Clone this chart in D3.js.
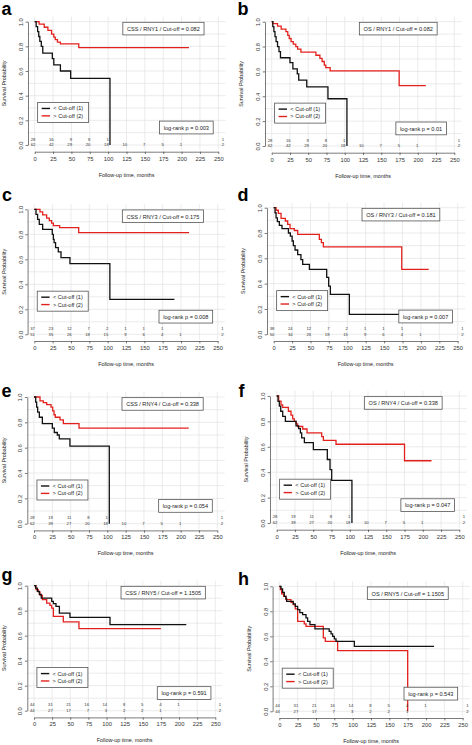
<!DOCTYPE html>
<html><head><meta charset="utf-8">
<script src="https://cdn.jsdelivr.net/npm/d3@7"></script>
<style>
html,body{margin:0;padding:0;background:#fff;}
svg{display:block;font-family:"Liberation Sans",Arial,sans-serif;}
</style></head>
<body><svg id="chart" width="472" height="745"></svg>
<script>
// ---------- DATA ----------
const timeTicks = [0,25,50,75,100,125,150,175,200,225,250];
const probTicks = [0,0.2,0.4,0.6,0.8,1.0];
const probGrid = [0,0.1,0.2,0.3,0.4,0.5,0.6,0.7,0.8,0.9,1.0];
const panelIds = ['a','b','c','d','e','f','g','h'];
const endpoints = ['CSS','OS','CSS','OS','CSS','OS','CSS','OS'];
const genes = ['RNY1','RNY1','RNY3','RNY3','RNY4','RNY4','RNY5','RNY5'];
const cutoffs = ['0.082','0.082','0.175','0.181','0.338','0.338','1.1505','1.1505'];
const pValues = ['0.003','0.01','0.008','0.007','0.054','0.047','0.591','0.543'];
const legendLabels = ['< Cut-off (1)','> Cut-off (2)'];
const strataLabels = ['1','2'];

// survival curves: [time (months), survival probability]
const a_low  = [[0,1],[2,0.96],[4,0.92],[5.5,0.88],[7,0.84],[9,0.80],[11,0.745],[24,0.70],[26,0.65],[35,0.60],[49,0.54],[102.5,0]];
const a_high = [[0,1],[6,0.98],[13,0.955],[18,0.93],[23,0.90],[26,0.875],[28,0.855],[31,0.835],[35,0.82],[60,0.79],[210,0.79]];
const b_low  = [[0,1],[1.5,0.96],[3,0.92],[4.5,0.88],[6,0.84],[8,0.80],[10,0.76],[12,0.71],[25,0.67],[29,0.62],[35,0.58],[37,0.53],[48,0.475],[77,0.38],[103,0]];
const b_high = [[0,1],[1.5,0.985],[8,0.965],[13,0.94],[19.5,0.92],[22,0.89],[24,0.865],[26.5,0.84],[29.5,0.82],[33,0.80],[35.5,0.78],[40,0.755],[60.5,0.73],[66,0.705],[69,0.68],[72,0.65],[74,0.63],[80,0.605],[174.5,0.485],[211,0.485]];
const c_low  = [[0,1],[2.3,0.96],[4.5,0.92],[6.8,0.88],[11.4,0.84],[24.5,0.80],[26,0.76],[27,0.733],[29,0.693],[32.7,0.66],[36.4,0.613],[48.6,0.565],[103,0.28],[191,0.28]];
const c_high = [[0,1],[7.7,0.98],[11.4,0.955],[16.8,0.93],[20.5,0.91],[23.6,0.89],[26,0.87],[34.5,0.853],[60.5,0.813],[211,0.813]];
const d_low  = [[0,1],[1.8,0.96],[3.2,0.92],[5,0.89],[7.7,0.86],[11.3,0.834],[20,0.80],[22.6,0.776],[25,0.737],[26.7,0.70],[29,0.666],[32.6,0.63],[37,0.59],[39.4,0.553],[48.5,0.513],[72,0.45],[74.7,0.38],[77,0.315],[102.8,0.158],[190,0.158]];
const d_high = [[0,1],[3.2,0.98],[6.3,0.955],[10,0.916],[15.8,0.895],[19,0.868],[22.2,0.834],[28,0.82],[32.6,0.79],[62,0.75],[64.8,0.724],[67.5,0.69],[174,0.513],[210.6,0.513]];
const e_low  = [[0,1],[2.3,0.96],[3.6,0.92],[5,0.88],[7.3,0.84],[11.4,0.79],[25,0.755],[27.7,0.72],[31.8,0.70],[34.5,0.67],[49,0.613],[102.7,0]];
const e_high = [[0,1],[8.2,0.97],[12.7,0.955],[17.3,0.94],[23.2,0.92],[25.5,0.89],[27.3,0.86],[29,0.84],[35.5,0.82],[40,0.79],[61.4,0.755],[211,0.755]];
const f_low  = [[0,1],[1.8,0.958],[3.6,0.92],[5.5,0.88],[8.2,0.84],[11.9,0.80],[26.5,0.764],[30,0.743],[32.4,0.71],[34.2,0.67],[37.9,0.633],[50.2,0.577],[69.3,0.50],[73,0.42],[75.3,0.335],[103,0]];
const f_high = [[0,1],[2.7,0.96],[5.9,0.93],[8.2,0.91],[16,0.88],[19.6,0.85],[21.9,0.82],[24.2,0.80],[26.5,0.78],[28.7,0.76],[35.6,0.74],[41.5,0.71],[61.6,0.68],[63.9,0.65],[81.2,0.62],[175,0.49],[212,0.49]];
const g_low  = [[0,1],[2.3,0.98],[4.6,0.955],[7.4,0.93],[10,0.90],[24.4,0.875],[26.7,0.856],[30.3,0.835],[35,0.78],[49.6,0.746],[104.8,0.688],[210,0.688]];
const g_high = [[0,1],[2.8,0.968],[6,0.95],[8.3,0.923],[11.5,0.888],[17.5,0.86],[22,0.843],[24.4,0.82],[26.7,0.755],[40.4,0.71],[62,0.656],[175,0.656]];
const h_low  = [[0,1],[2.3,0.98],[4.5,0.952],[6.8,0.92],[9.1,0.90],[10,0.88],[19,0.86],[21.8,0.84],[25,0.813],[28,0.79],[31.8,0.773],[36.4,0.747],[38.6,0.72],[41.8,0.693],[48.6,0.66],[68,0.64],[70.5,0.62],[72.7,0.60],[75,0.58],[77.3,0.56],[102.3,0.52],[211,0.52]];
const h_high = [[0,1],[1.4,0.973],[3.2,0.94],[5.9,0.92],[9.1,0.893],[15.9,0.872],[19,0.853],[21.8,0.82],[25,0.72],[34,0.70],[36.4,0.68],[60,0.587],[62.7,0.56],[79.5,0.485],[175,0]];

// numbers at risk at timeTicks
const a_riskLow = [28,16,9,8,1],          a_riskHigh = [62,42,29,20,18,10,7,5,1];
const b_riskLow = [28,16,9,8,1],          b_riskHigh = [62,42,29,20,18,10,7,5,1];
const c_riskLow = [37,23,12,7,2,1,1,1],   c_riskHigh = [51,35,26,18,15,9,6,4,1];
const d_riskLow = [38,24,12,7,2,1,1,1],   d_riskHigh = [50,34,26,18,15,9,6,4,1];
const e_riskLow = [28,19,11,8,1],         e_riskHigh = [62,39,27,20,18,10,7,5,1];
const f_riskLow = [28,19,11,8,1],         f_riskHigh = [62,39,27,20,18,10,7,5,1];
const g_riskLow = [44,31,21,16,14,8,5,4,1], g_riskHigh = [44,27,17,7,3,2,2,1];
const h_riskLow = [44,31,21,16,14,8,5,4,1], h_riskHigh = [44,27,17,7,3,2,2,1];

const curvesLow  = [a_low,b_low,c_low,d_low,e_low,f_low,g_low,h_low];
const curvesHigh = [a_high,b_high,c_high,d_high,e_high,f_high,g_high,h_high];
const risksLow   = [a_riskLow,b_riskLow,c_riskLow,d_riskLow,e_riskLow,f_riskLow,g_riskLow,h_riskLow];
const risksHigh  = [a_riskHigh,b_riskHigh,c_riskHigh,d_riskHigh,e_riskHigh,f_riskHigh,g_riskHigh,h_riskHigh];

// ---------- LAYOUT (pixel placement of each panel) ----------
const layout = [
  {x0:34.7, x1:218.3, yT:21.7,  yB:145,   lx:1.5, ly:15},
  {x0:271.7,x1:454.3, yT:21.7,  yB:146,   lx:237.5, ly:15},
  {x0:34.3, x1:217.7, yT:209.3, yB:334.3, lx:2, ly:201},
  {x0:273.7,x1:457.7, yT:207.7, yB:334.3, lx:237.5, ly:201},
  {x0:34,   x1:217.3, yT:397,   yB:523.7, lx:1.5, ly:397},
  {x0:276.7,x1:459.3, yT:396,   yB:523,   lx:238.5, ly:397},
  {x0:34,   x1:215.3, yT:585.7, yB:710.7, lx:1.5, ly:581},
  {x0:279.3,x1:462.7, yT:586.3, yB:711.3, lx:238, ly:585}
];

const RED = '#e3211c', BLACK = '#111';
const svg = d3.select('#chart');
svg.append('rect').attr('width',472).attr('height',745).attr('fill','#fff');

panelIds.forEach((id, i) => {
  const L = layout[i];
  const x = d3.scaleLinear().domain([0,250]).range([L.x0, L.x1]);
  const y = d3.scaleLinear().domain([0,1]).range([L.yB, L.yT]);
  const g = svg.append('g');
  const xl = x(-10), xr = x(260), yt = y(1.04), yb = y(-0.04);

  // grid
  g.append('g').selectAll('line').data(timeTicks).join('line')
    .attr('x1', d => x(d)).attr('x2', d => x(d)).attr('y1', yt).attr('y2', yb)
    .attr('stroke', '#e3e3e3').attr('stroke-width', 0.7);
  g.append('g').selectAll('line').data(probGrid).join('line')
    .attr('y1', d => y(d)).attr('y2', d => y(d)).attr('x1', xl).attr('x2', xr)
    .attr('stroke', '#e3e3e3').attr('stroke-width', 0.7);

  // axes
  const xa = g.append('g').attr('transform', `translate(0,${y(0) + 6.7})`)
    .call(d3.axisBottom(x).tickValues(timeTicks).tickSizeInner(2.4).tickSizeOuter(0).tickPadding(2.5));
  xa.selectAll('text').attr('font-size', 5.8).attr('fill', '#333');
  const ya = g.append('g').attr('transform', `translate(${x(0) - 6.7},0)`)
    .call(d3.axisLeft(y).tickValues(probTicks).tickFormat(d3.format('.1f')).tickSizeInner(2.4).tickSizeOuter(0));
  ya.selectAll('text').attr('font-size', 5.8).attr('fill', '#333')
    .attr('x', 0).attr('dy', 0).attr('text-anchor', 'middle')
    .attr('transform', 'translate(-5,0) rotate(-90)');
  [xa, ya].forEach(a => {
    a.select('.domain').attr('stroke', '#444').attr('stroke-width', 0.7);
    a.selectAll('.tick line').attr('stroke', '#444').attr('stroke-width', 0.7);
  });

  // axis titles
  g.append('text').attr('x', x(125)).attr('y', y(0) + 31.5)
    .attr('text-anchor', 'middle').attr('font-size', 5.4).attr('fill', '#222')
    .text('Follow-up time, months');
  g.append('text').attr('transform', `translate(${x(0) - 28.5},${y(0.5)}) rotate(-90)`)
    .attr('text-anchor', 'middle').attr('font-size', 5.4).attr('fill', '#222')
    .text('Survival Probability');

  // curves
  const line = d3.line().x(d => x(d[0])).y(d => y(d[1])).curve(d3.curveStepAfter);
  g.append('path').datum(curvesHigh[i]).attr('d', line)
    .attr('fill', 'none').attr('stroke', RED).attr('stroke-width', 1.3);
  g.append('path').datum(curvesLow[i]).attr('d', line)
    .attr('fill', 'none').attr('stroke', BLACK).attr('stroke-width', 1.3);

  // numbers at risk
  const rows = [risksLow[i], risksHigh[i]];
  const rowY = [0.048, 0.0];
  rows.forEach((r, k) => {
    g.append('g').selectAll('text').data(r).join('text')
      .attr('x', (d, j) => x(timeTicks[j]) + 0.6).attr('y', y(rowY[k])).attr('dy', '0.35em')
      .attr('text-anchor', 'end').attr('font-size', 4.2).attr('fill', '#333')
      .text(d => d);
    g.append('text').attr('x', x(258)).attr('y', y(rowY[k])).attr('dy', '0.35em')
      .attr('text-anchor', 'end').attr('font-size', 4.2).attr('fill', '#333')
      .text(strataLabels[k]);
  });

  // title box (top)
  const tb = g.append('g');
  const tt = tb.append('text').attr('x', x(120) + 4.2).attr('y', y(0.995) + 8.6)
    .attr('font-size', 5.6).attr('fill', '#222')
    .text(`${endpoints[i]} / ${genes[i]} / Cut-off = ${cutoffs[i]}`);
  const tw = tt.node().getComputedTextLength();
  tb.insert('rect', 'text').attr('x', x(120)).attr('y', y(0.995))
    .attr('width', tw + 8.4).attr('height', 12.6)
    .attr('fill', '#fff').attr('stroke', '#555').attr('stroke-width', 0.8);

  // log-rank box
  const lb = g.append('g');
  const lt = lb.append('text').attr('x', x(170) + 4.2).attr('y', y(0.09) - 4.2)
    .attr('font-size', 5.6).attr('fill', '#222')
    .text(`log-rank p = ${pValues[i]}`);
  const lw = lt.node().getComputedTextLength();
  lb.insert('rect', 'text').attr('x', x(170)).attr('y', y(0.09) - 12.8)
    .attr('width', lw + 8.4).attr('height', 12.8)
    .attr('fill', '#fff').attr('stroke', '#555').attr('stroke-width', 0.8);

  // legend box
  const lg = g.append('g').attr('transform', `translate(${x(4)},${y(0.345)})`);
  lg.append('rect').attr('width', 51).attr('height', 20)
    .attr('fill', '#fff').attr('stroke', '#555').attr('stroke-width', 0.8);
  [BLACK, RED].forEach((c, k) => {
    const yy = 6 + k * 7.4;
    lg.append('line').attr('x1', 4).attr('x2', 12.4).attr('y1', yy).attr('y2', yy)
      .attr('stroke', c).attr('stroke-width', 1.4);
    lg.append('text').attr('x', 15.7).attr('y', yy).attr('dy', '0.35em')
      .attr('font-size', 5.6).attr('fill', '#222').text(legendLabels[k]);
  });

  // panel letter
  svg.append('text').attr('x', L.lx).attr('y', L.ly)
    .attr('font-size', 18).attr('font-weight', 'bold').attr('fill', '#000').text(id);
});
</script></body></html>
